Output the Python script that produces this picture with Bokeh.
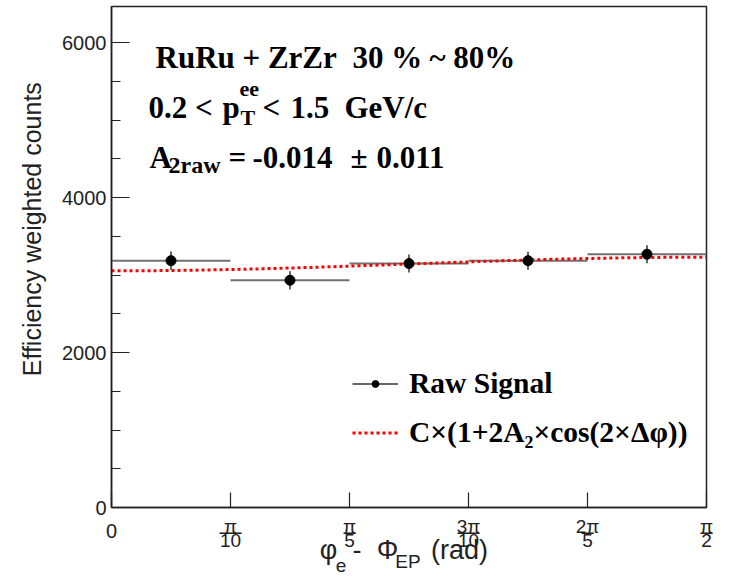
import numpy as np
from bokeh.plotting import figure
from bokeh.models import (Range1d, FixedTicker, SingleIntervalTicker, Label,
                          Legend, LegendItem, ColumnDataSource, LinearAxis)
from bokeh.embed import file_html
from bokeh.resources import INLINE

PI = np.pi

# ---------------- data ----------------
bin_edges = [0, PI / 10, PI / 5, 3 * PI / 10, 2 * PI / 5, PI / 2]
signal = [3185, 2932, 3148, 3185, 3268]
signal_err = [118, 118, 116, 116, 116]

fit_C = 3142.0
fit_A2 = -0.014

x_tick_values = [0, PI / 10, PI / 5, 3 * PI / 10, 2 * PI / 5, PI / 2]
x_tick_num = ["", "π", "π", "3π", "2π", "π"]
x_tick_den = ["", "10", "5", "10", "5", "2"]

# ---------------- layout constants ----------------
W, H = 741, 579
FL, FR, FT, FB = 111, 706, 6, 507          # frame edges (px)
ASC, DESC = 0.905, 0.212                    # Liberation Sans font metrics (em)


def px2x(px):
    return (px - FL) / (FR - FL) * (PI / 2)


# ---------------- derived ----------------
lo = np.array(bin_edges[:-1])
hi = np.array(bin_edges[1:])
xc = (lo + hi) / 2
y = np.array(signal, dtype=float)
e = np.array(signal_err, dtype=float)
src = ColumnDataSource(dict(x=xc, lo=lo, hi=hi, y=y, ylo=y - e, yhi=y + e))

xf = np.linspace(bin_edges[0], bin_edges[-1], 300)
yf = fit_C * (1 + 2 * fit_A2 * np.cos(2 * xf))

p = figure(width=W, height=H, output_backend="svg", toolbar_location=None,
           x_range=Range1d(0, PI / 2), y_range=Range1d(0, 6465),
           min_border_left=FL, min_border_right=W - FR, min_border_top=FT,
           min_border_bottom=H - FB)
p.grid.visible = False
p.outline_line_color = "#222222"
p.outline_line_width = 1.5
p.background_fill_color = "white"
p.border_fill_color = "white"

# ---- stacking helper for text rows below the frame ----
_cur = [float(FB)]


def standoff_for(baseline, size):
    top = baseline - ASC * size
    s = int(round(top - _cur[0]))
    _cur[0] = _cur[0] + s + (ASC + DESC) * size
    return s


# ---- main x axis: ticks + numerators ----
xa = p.xaxis[0]
xa.ticker = FixedTicker(ticks=x_tick_values)
xa.major_label_overrides = dict(zip(x_tick_values, x_tick_num))
xa.major_label_text_font = "Liberation Sans"
xa.major_label_text_font_size = "19px"
xa.major_label_text_color = "#222222"
xa.major_label_standoff = standoff_for(532, 19)
xa.major_tick_in = 15
xa.major_tick_out = 0
xa.minor_tick_line_color = None
xa.axis_line_width = 1.5
xa.axis_line_color = "#222222"
xa.major_tick_line_color = "#222222"
xa.major_tick_line_width = 1.2


def text_axis(ticks, texts, size, baseline):
    ax = LinearAxis(ticker=FixedTicker(ticks=list(ticks)),
                    major_label_overrides=dict(zip(ticks, texts)),
                    major_label_text_font="Liberation Sans",
                    major_label_text_font_size=f"{size}px",
                    major_label_text_color="#222222",
                    major_label_standoff=standoff_for(baseline, size),
                    major_tick_in=0, major_tick_out=0,
                    minor_tick_in=0, minor_tick_out=0,
                    major_tick_line_color=None, minor_tick_line_color=None,
                    axis_line_color=None)
    p.add_layout(ax, "below")


# "0" label, fraction bars, denominators
text_axis([x_tick_values[0]], ["0"], 20, 538)
bar_ticks = [v for v, d in zip(x_tick_values, x_tick_den) if d]
bar_texts = ["—" if len(d) > 1 else "–" for d in x_tick_den if d]
text_axis(bar_ticks, bar_texts, 22, 540.5)
text_axis(bar_ticks, [d for d in x_tick_den if d], 19, 549)

# x-axis title "φ_e - Φ_EP (rad)"
text_axis([px2x(v) for v in [328, 356.5, 387, 459]], ["φ", "-", "Φ", "(rad)"], 27, 562.5)
text_axis([px2x(407.5)], ["EP"], 19, 569)
text_axis([px2x(340.5)], ["e"], 19, 574)

# ---- y axis ----
ya = p.yaxis[0]
ya.ticker = SingleIntervalTicker(interval=2000, num_minor_ticks=4)
ya.major_tick_in = 18
ya.major_tick_out = 0
ya.minor_tick_in = 9
ya.minor_tick_out = 0
ya.axis_line_width = 1.5
ya.axis_line_color = "#222222"
ya.major_tick_line_color = "#222222"
ya.minor_tick_line_color = "#222222"
ya.major_tick_line_width = 1.2
ya.minor_tick_line_width = 1.2
ya.major_label_text_font = "Liberation Sans"
ya.major_label_text_font_size = "20px"
ya.major_label_text_color = "#222222"
ya.major_label_standoff = 5
ya.axis_label = "\u00a0" * 8 + "Efficiency weighted counts"
ya.axis_label_text_font = "Liberation Sans"
ya.axis_label_text_font_style = "normal"
ya.axis_label_text_font_size = "25px"
ya.axis_label_text_color = "#222222"
ya.axis_label_standoff = 13

# ---- glyphs ----
r_xerr = p.segment(x0="lo", y0="y", x1="hi", y1="y", source=src,
                   line_color="#707070", line_width=2)
r_fit = p.line(xf, yf, line_color="#ff0000", line_width=3, line_dash="3 3")
r_yerr = p.segment(x0="x", y0="ylo", x1="x", y1="yhi", source=src,
                   line_color="#333333", line_width=1.5)
r_pts = p.scatter(x="x", y="y", source=src, size=10, color="black")

legend = Legend(items=[LegendItem(label="Raw Signal", renderers=[r_yerr, r_pts]),
                       LegendItem(label="C×(1+2A₂×cos(2×Δφ))", renderers=[r_fit])],
                location=(241, 58), border_line_color=None,
                background_fill_alpha=0, padding=0, margin=0,
                glyph_width=46, glyph_height=17, label_height=34,
                label_standoff=11, spacing=15,
                label_text_font="Liberation Serif", label_text_font_style="bold",
                label_text_font_size="29.5px", label_text_color="black")
p.add_layout(legend)


def lab(text, xpx, ypx, size):
    """Text inside the frame; xpx/ypx are picture pixels (baseline-left)."""
    p.add_layout(Label(x=xpx - FL, y=FB - ypx, x_units="screen", y_units="screen",
                       text=text, text_font="Liberation Serif",
                       text_font_style="bold", text_font_size=size,
                       text_align="left", text_baseline="alphabetic",
                       text_color="black"))


# header texts
lab("RuRu + ZrZr", 155, 57, "31px")
lab("30 %", 352, 57, "31px")
lab("~ 80%", 429, 57, "31px")

lab("0.2 <", 148, 107, "31px")
lab("p", 222, 107, "31px")
lab("ee", 239, 88, "22px")
lab("T", 240, 117, "22px")
lab("<", 262, 107, "31px")
lab("1.5", 290, 107, "31px")
lab("GeV/c", 344, 107, "31px")

lab("A", 149, 157, "31px")
lab("2raw", 168, 164, "24px")
lab("=", 228, 157, "31px")
lab("-0.014", 252, 157, "31px")
lab("±", 350, 157, "31px")
lab("0.011", 376, 157, "31px")

open("out.html", "w").write(file_html(p, INLINE))
